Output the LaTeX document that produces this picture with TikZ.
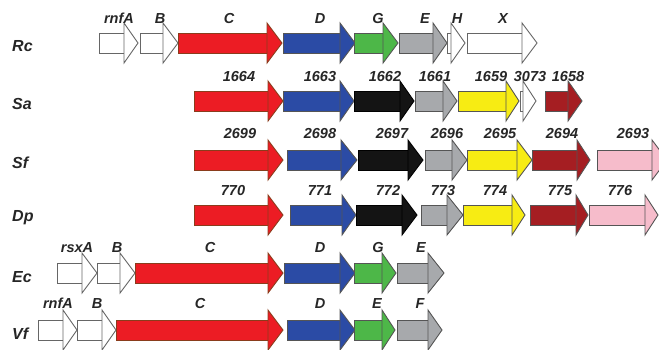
\documentclass[tikz,border=0pt]{standalone}
\usepackage{fontspec}
\setmainfont{Liberation Sans}
\definecolor{cred}{HTML}{EC1C24}
\definecolor{credo}{HTML}{8A3C1C}
\definecolor{cblue}{HTML}{2B4BA5}
\definecolor{cgreen}{HTML}{4DB748}
\definecolor{cgrey}{HTML}{A7A9AC}
\definecolor{cblack}{HTML}{141414}
\definecolor{cyellow}{HTML}{F7EC13}
\definecolor{cdred}{HTML}{A51E22}
\definecolor{cpink}{HTML}{F6BCCB}
\definecolor{cline}{HTML}{555555}
\tikzset{
  genebase/.style={line width=0.9pt, draw=cline, line join=miter},
  wg/.style={genebase, fill=white, draw=black!60},
  rg/.style={genebase, fill=cred, draw=credo},
  bg/.style={genebase, fill=cblue},
  gg/.style={genebase, fill=cgreen},
  sg/.style={genebase, fill=cgrey},
  kg/.style={genebase, fill=cblack, draw=black},
  yg/.style={genebase, fill=cyellow},
  dg/.style={genebase, fill=cdred},
  pg/.style={genebase, fill=cpink},
  glab/.style={font=\fontsize{14.5}{16}\selectfont\bfseries\itshape, anchor=base, inner sep=0pt, text=black!85},
  rlab/.style={font=\fontsize{16}{18}\selectfont\bfseries\itshape, anchor=west, inner sep=0pt, text=black!85},
}
\newcommand{\gene}[5]{%
  \draw[#5] (#1,#4-10) rectangle (#2,#4+10);
  \draw[#5] (#2,#4-20) -- (#3,#4) -- (#2,#4+20) -- cycle;}
\begin{document}
\begin{tikzpicture}[x=1pt,y=-1pt]
\useasboundingbox (0,0) rectangle (659,349);
% Rc
\node[rlab] (rc) at (12,46) {Rc};
\gene{99}{124}{138}{43}{wg}
\gene{140}{163}{178}{43}{wg}
\gene{178}{267}{282}{43}{rg}
\gene{283}{340}{355}{43}{bg}
\gene{354}{383}{398}{43}{gg}
\gene{399}{433}{447}{43}{sg}
\gene{447}{451}{465}{43}{wg}
\gene{467}{522}{537}{43}{wg}
\node[glab] (rcA) at (119,23) {rnfA};
\node[glab] (rcB) at (160,23) {B};
\node[glab] (rcC) at (229,23) {C};
\node[glab] (rcD) at (320,23) {D};
\node[glab] (rcG) at (378,23) {G};
\node[glab] (rcE) at (425,23) {E};
\node[glab] (rcH) at (457,23) {H};
\node[glab] (rcX) at (503,23) {X};
% Sa
\node[rlab] (sa) at (12,104) {Sa};
\gene{194}{268}{283}{101}{rg}
\gene{283}{340}{354}{101}{bg}
\gene{354}{400}{414}{101}{kg}
\gene{415}{443}{457}{101}{sg}
\gene{458}{506}{519}{101}{yg}
\gene{520}{523}{536}{101}{wg}
\gene{545}{568}{582}{101}{dg}
\node[glab] (sa1) at (239,81) {1664};
\node[glab] (sa2) at (320,81) {1663};
\node[glab] (sa3) at (385,81) {1662};
\node[glab] (sa4) at (435,81) {1661};
\node[glab] (sa5) at (491,81) {1659};
\node[glab] (sa6) at (530,81) {3073};
\node[glab] (sa7) at (568,81) {1658};
% Sf
\node[rlab] (sf) at (12,163) {Sf};
\gene{194}{268}{283}{160}{rg}
\gene{287}{341}{357}{160}{bg}
\gene{358}{408}{423}{160}{kg}
\gene{425}{452}{467}{160}{sg}
\gene{467}{517}{532}{160}{yg}
\gene{532}{577}{590}{160}{dg}
\gene{597}{652}{667}{160}{pg}
\node[glab] (sf1) at (240,138) {2699};
\node[glab] (sf2) at (320,138) {2698};
\node[glab] (sf3) at (392,138) {2697};
\node[glab] (sf4) at (447,138) {2696};
\node[glab] (sf5) at (500,138) {2695};
\node[glab] (sf6) at (562,138) {2694};
\node[glab] (sf7) at (633,138) {2693};
% Dp
\node[rlab] (dp) at (12,218) {Dp};
\gene{194}{268}{283}{215}{rg}
\gene{290}{342}{356}{215}{bg}
\gene{356}{402}{417}{215}{kg}
\gene{421}{447}{463}{215}{sg}
\gene{463}{512}{525}{215}{yg}
\gene{530}{576}{588}{215}{dg}
\gene{589}{645}{658}{215}{pg}
\node[glab] (dp1) at (233,195) {770};
\node[glab] (dp2) at (320,195) {771};
\node[glab] (dp3) at (388,195) {772};
\node[glab] (dp4) at (443,195) {773};
\node[glab] (dp5) at (495,195) {774};
\node[glab] (dp6) at (560,195) {775};
\node[glab] (dp7) at (620,195) {776};
% Ec
\node[rlab] (ec) at (12,277) {Ec};
\gene{57}{82}{97}{273}{wg}
\gene{97}{120}{135}{273}{wg}
\gene{135}{268}{283}{273}{rg}
\gene{284}{340}{355}{273}{bg}
\gene{354}{382}{396}{273}{gg}
\gene{397}{428}{444}{273}{sg}
\node[glab] (ecA) at (77,252) {rsxA};
\node[glab] (ecB) at (117,252) {B};
\node[glab] (ecC) at (210,252) {C};
\node[glab] (ecD) at (320,252) {D};
\node[glab] (ecG) at (378,252) {G};
\node[glab] (ecE) at (421,252) {E};
% Vf
\node[rlab] (vf) at (12,334) {Vf};
\gene{38}{63}{77}{330}{wg}
\gene{77}{102}{116}{330}{wg}
\gene{116}{268}{283}{330}{rg}
\gene{287}{340}{355}{330}{bg}
\gene{354}{382}{395}{330}{gg}
\gene{397}{428}{442}{330}{sg}
\node[glab] (vfA) at (58,308) {rnfA};
\node[glab] (vfB) at (97,308) {B};
\node[glab] (vfC) at (200,308) {C};
\node[glab] (vfD) at (320,308) {D};
\node[glab] (vfE) at (377,308) {E};
\node[glab] (vfF) at (420,308) {F};
\end{tikzpicture}
\end{document}
